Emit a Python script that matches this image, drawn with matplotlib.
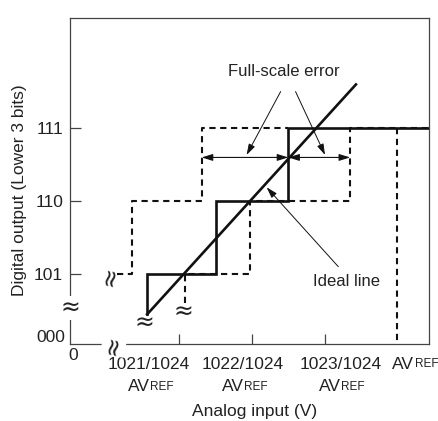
import matplotlib
matplotlib.use('Agg')
import matplotlib.pyplot as plt

plt.rcParams['font.family'] = ['Liberation Sans', 'DejaVu Sans']

# y levels of the lower 3 bits of the code
code_levels = [5, 6, 7]
code_labels = ['101', '110', '111']

# x positions of the steps, in 1/1024 AVREF units
x_ticks = [1021, 1022, 1023]
x_labels = ['1021/1024', '1022/1024', '1023/1024']
avref_x = 1024.0

# actual conversion characteristic (solid)
actual_x = [1020.56, 1020.56, 1021.5, 1021.5, 1022.5, 1022.5, 1024.6]
actual_y = [4.45, 5, 5, 6, 6, 7, 7]

# ideal line
ideal_x = [1020.56, 1023.43]
ideal_y = [4.45, 7.60]

# dashed characteristics shifted by the full-scale error
upper_x = [1020.14, 1020.35, 1020.35, 1021.31, 1021.31, 1022.5]
upper_y = [5, 5, 6, 6, 7, 7]
lower_x = [1021.08, 1021.08, 1021.97, 1021.97, 1023.35, 1023.35, 1024.6]
lower_y = [4.60, 5, 5, 6, 6, 7, 7]

fig = plt.figure(figsize=(4.38, 4.21), dpi=100)
ax = fig.add_axes([0.1598, 0.1822, 0.819, 0.7750])
ax.set_xlim(1019.5, 1024.43)
ax.set_ylim(4.04, 8.51)

spine_c = '#444444'
for s in ax.spines.values():
    s.set_color(spine_c)
    s.set_linewidth(0.9)

dash = dict(color='#111111', lw=1.5, dashes=(3, 2.2), zorder=2)
ax.plot(upper_x, upper_y, **dash)
ax.plot(lower_x, lower_y, **dash)
ax.plot([avref_x, avref_x], [7, 4.04], **dash)

ax.plot(actual_x, actual_y, color='#111111', lw=1.9, zorder=3, solid_joinstyle='miter')
ax.plot(ideal_x, ideal_y, color='#111111', lw=1.9, zorder=3)

# ticks
ax.set_yticks(code_levels, code_labels)
ax.set_xticks(x_ticks, [''] * len(x_ticks))
ax.tick_params(axis='y', direction='in', length=8, width=0.9, color=spine_c,
               labelsize=12.5, pad=5, labelcolor='#222222')
ax.tick_params(axis='x', direction='in', length=7, width=0.9, color=spine_c)

ax.text(1019.44, 4.139, '000', ha='right', va='center', fontsize=12.5, color='#222222')
ax.annotate('0', xy=(1019.54, 0), xycoords=('data', 'axes fraction'),
            xytext=(0, -8), textcoords='offset points', ha='center', va='center',
            fontsize=12.5, color='#222222')

# x labels: numerator line + AVREF line
label_cx = [1020.58, 1021.874, 1023.215]
av_left = [1020.29, 1021.583, 1022.918]
for cx, lab in zip(label_cx, x_labels):
    ax.annotate(lab, xy=(cx, 0), xycoords=('data', 'axes fraction'),
                xytext=(0, -14.2), textcoords='offset points', ha='center', va='center',
                fontsize=12.5, color='#222222')


def av_ref(x, dy):
    t = ax.annotate('AV', xy=(x, 0), xycoords=('data', 'axes fraction'),
                    xytext=(0, -dy), textcoords='offset points', ha='left', va='center',
                    fontsize=12.5, color='#222222', annotation_clip=False)
    ax.annotate('REF', xy=(1, 0), xycoords=t, xytext=(0.3, 0.8),
                textcoords='offset points', ha='left', va='bottom',
                fontsize=8.5, color='#222222', annotation_clip=False)


for x in av_left:
    av_ref(x, 30.5)
av_ref(1023.931, 14.2)

fig.text(255 / 438, 5 / 421, 'Analog input (V)', ha='center', va='baseline',
         fontsize=12.5, color='#222222')
fig.text(20 / 438, 1 - 190 / 421, 'Digital output (Lower 3 bits)', rotation=90,
         ha='center', va='center', fontsize=12.5, color='#222222')

# full-scale error arrows
arr_y = 6.6
two = dict(arrowstyle='<|-|>,head_length=0.55,head_width=0.17', lw=0.8, color='#111111',
           shrinkA=0, shrinkB=0, mutation_scale=12)
ax.annotate('', xy=(upper_x[3], arr_y), xytext=(actual_x[4], arr_y), arrowprops=two)
ax.annotate('', xy=(actual_x[4], arr_y), xytext=(lower_x[4], arr_y), arrowprops=two)

one = dict(arrowstyle='-|>,head_length=0.55,head_width=0.17', lw=0.7, color='#111111',
           shrinkA=0, shrinkB=0, mutation_scale=12)
ax.text(1022.44, 7.776, 'Full-scale error', ha='center', va='center', fontsize=12,
        color='#222222')
ax.annotate('', xy=(1021.927, 6.634), xytext=(1022.395, 7.502), arrowprops=one)
ax.annotate('', xy=(1023.005, 6.634), xytext=(1022.60, 7.502), arrowprops=one)

ax.text(1023.30, 4.897, 'Ideal line', ha='center', va='center', fontsize=12,
        color='#222222')
ax.annotate('', xy=(1022.203, 6.19), xytext=(1023.188, 5.103), arrowprops=one)

# break marks
wave = dict(ha='center', va='center', fontsize=17, color='#222222',
            family='DejaVu Sans', zorder=4)
ax.text(1019.5, 4.54, '≈', clip_on=False,
        bbox=dict(fc='white', ec='none', pad=0.0), **wave)
ax.text(1020.1, 4.02, '≈', rotation=78, clip_on=False,
        bbox=dict(fc='white', ec='none', pad=0.0), **wave)
ax.text(1020.05, 4.97, '≈', rotation=78, **wave)
ax.text(1020.52, 4.34, '≈', **wave)
ax.text(1021.06, 4.48, '≈', **wave)

fig.savefig('out.png', dpi=100)
